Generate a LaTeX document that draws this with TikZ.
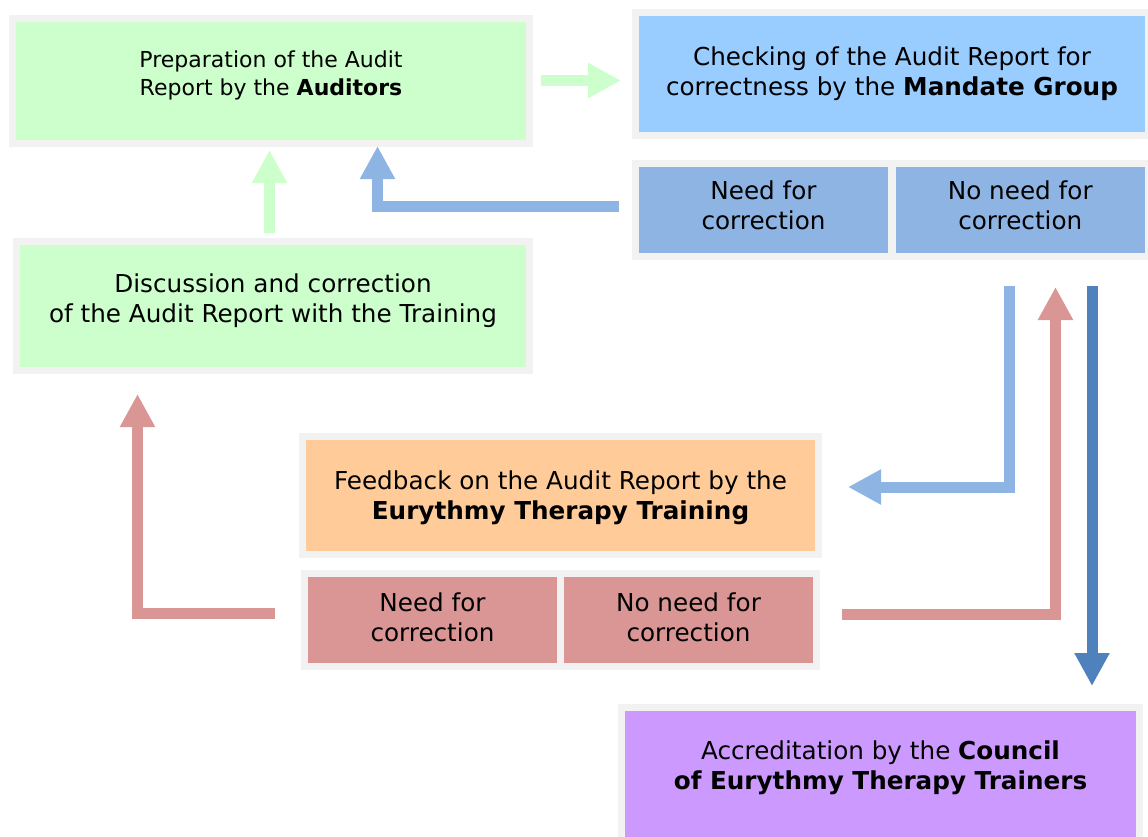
\documentclass[tikz,border=0pt]{standalone}
\usepackage{fontspec}
\setmainfont{DejaVu Sans}
\usepackage{tikz}
\usetikzlibrary{arrows.meta,positioning}
\definecolor{rim}{HTML}{F2F2F2}
\definecolor{prep}{HTML}{CCFFCC}
\definecolor{chk}{HTML}{99CCFF}
\definecolor{chkd}{HTML}{8EB4E3}
\definecolor{feed}{HTML}{FFCC99}
\definecolor{feedd}{HTML}{D99694}
\definecolor{acc}{HTML}{CC99FF}
\definecolor{deep}{HTML}{4F81BD}
\tikzset{
  blk/.style={draw=rim, line width=5.25pt, outer sep=0pt, inner sep=0pt},
  txt/.style={align=center, inner sep=0pt, font=\fontsize{18.5}{22.5}\selectfont},
  prepb/.style={blk, fill=prep},
  chkb/.style={blk, fill=chk},
  chkdb/.style={blk, fill=chkd, minimum height=69.375pt},
  feedb/.style={blk, fill=feed},
  feeddb/.style={blk, fill=feedd, minimum width=192pt, minimum height=69.75pt},
  accb/.style={blk, fill=acc},
  ar/.style={line width=8.25pt, line join=miter,
             -{Triangle[length=24.75pt, width=24.75pt]}},
}

\begin{document}
\begin{tikzpicture}[x=0.75pt, y=-0.75pt]
  \useasboundingbox (0,0) rectangle (1148,836);
  % --- audit report ---
  \node[prepb, minimum width=387.75pt, minimum height=93.75pt,
        label={[txt, name=preptxt, yshift=4.5pt, font=\fontsize{16.5}{21}\selectfont]
               center:Preparation of the Audit\\Report by the \textbf{Auditors}}]
       (prep) at (271,81) {};
  \node[prepb, minimum width=384.75pt, minimum height=96.75pt,
        label={[txt, name=disctxt, yshift=3.75pt]
               center:Discussion and correction\\of the Audit Report with the Training}]
       (disc) at (273,306) {};

  % --- mandate group ---
  \node[chkb, minimum width=384.75pt, minimum height=92.25pt,
        label={[txt, name=checktxt]
               center:Checking of the Audit Report for\\correctness by the \textbf{Mandate Group}}]
       (check) at (892,74) {};
  \node[chkdb, minimum width=192pt,
        label={[txt, name=chkyestxt, yshift=3.4pt]center:Need for\\correction}]
       (chkyes) at (763.5,209.75) {};
  \node[chkdb, minimum width=191.625pt, right=0.75pt of chkyes,
        label={[txt, name=chknotxt, yshift=3.4pt]center:No need for\\correction}]
       (chkno) {};

  % --- training ---
  \node[feedb, minimum width=387pt, minimum height=88.5pt,
        label={[txt, name=feedtxt, yshift=-1.5pt]
               center:Feedback on the Audit Report by the\\\textbf{Eurythmy Therapy Training}}]
       (feed) at (560.5,495.5) {};
  \node[feeddb, label={[txt, name=fbyestxt, yshift=2.25pt]center:Need for\\correction}]
       (fbyes) at (432.5,620) {};
  \node[feeddb, right=0pt of fbyes,
        label={[txt, name=fbnotxt, yshift=2.25pt]center:No need for\\correction}]
       (fbno) {};

  % --- council ---
  \node[accb, minimum width=388.5pt, minimum height=104.25pt,
        label={[txt, name=acctxt, yshift=7pt]
               center:Accreditation by the \textbf{Council}\\\textbf{of Eurythmy Therapy Trainers}}]
       (acc) at (880.5,777) {};

  % --- free arrow ends ---
  \coordinate (a1s) at (541,80.5);   \coordinate (a1e) at (621,80.5);
  \coordinate (a2s) at (269.5,233);  \coordinate (a2e) at (269.5,150);
  \coordinate (a3s) at (619,206.5);  \coordinate (a3e) at (377.5,146);
  \coordinate (a4s) at (1009.5,286); \coordinate (a4e) at (848,487);
  \coordinate (a5s) at (842,614.5);  \coordinate (a5e) at (1055.5,287);
  \coordinate (a6s) at (1092,286);   \coordinate (a6e) at (1092,686);
  \coordinate (a7s) at (275,613.5);  \coordinate (a7e) at (137.5,394);

  \draw[ar, draw=prep] (a1s) -- (a1e);
  \draw[ar, draw=prep] (a2s) -- (a2e);
  \draw[ar, draw=chkd] (a3s) -| (a3e);
  \draw[ar, draw=chkd] (a4s) |- (a4e);
  \draw[ar, draw=feedd] (a5s) -| (a5e);
  \draw[ar, draw=deep] (a6s) -- (a6e);
  \draw[ar, draw=feedd] (a7s) -| (a7e);
\end{tikzpicture}
\end{document}
